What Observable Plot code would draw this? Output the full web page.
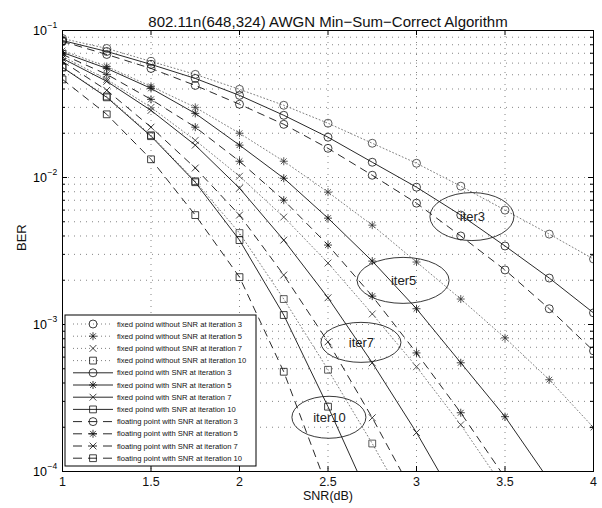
<!DOCTYPE html>
<html>
<head>
<meta charset="utf-8">
<script src="https://cdn.jsdelivr.net/npm/d3@7"></script>
<script src="https://cdn.jsdelivr.net/npm/@observablehq/plot@0.6"></script>
<style>
html,body{margin:0;padding:0;background:#fff;}
#chart svg{display:block;}
</style>
</head>
<body>
<div id="chart"></div>
<script>
// ---------- data ----------
const title = "802.11n(648,324) AWGN Min\u2212Sum\u2212Correct Algorithm";
const xLabel = "SNR(dB)";
const yLabel = "BER";
const snr = [1, 1.25, 1.5, 1.75, 2, 2.25, 2.5, 2.75, 3, 3.25, 3.5, 3.75, 4];
const xTicks = [1, 1.5, 2, 2.5, 3, 3.5, 4];
const yDecades = [1e-4, 1e-3, 1e-2, 1e-1];
const yExponents = ["\u22124", "\u22123", "\u22122", "\u22121"];

const noSnr3  = [0.0882, 0.0755, 0.0616, 0.0503, 0.0398, 0.0310, 0.0234, 0.0171, 0.0125, 0.00873, 0.00600, 0.00412, 0.00279];
const noSnr5  = [0.0731, 0.0569, 0.0417, 0.0300, 0.0200, 0.0129, 0.00795, 0.00474, 0.00266, 0.00149, 0.000811, 0.000421, 0.000199];
const noSnr7  = [0.0666, 0.0465, 0.0300, 0.0179, 0.0102, 0.00538, 0.00262, 0.00118, 0.000516, 0.000208, 0.0000754];
const noSnr10 = [0.0561, 0.0356, 0.0194, 0.00944, 0.00419, 0.00149, 0.000492, 0.000155, 0.0000452];

const withSnr3  = [0.0855, 0.0720, 0.0588, 0.0472, 0.0362, 0.0265, 0.0188, 0.0127, 0.00859, 0.00555, 0.00342, 0.00207, 0.00120];
const withSnr5  = [0.0709, 0.0552, 0.0404, 0.0273, 0.0166, 0.00989, 0.00529, 0.00270, 0.00128, 0.000549, 0.000236, 0.0000867];
const withSnr7  = [0.0645, 0.0451, 0.0286, 0.0166, 0.00846, 0.00375, 0.00152, 0.000549, 0.000184, 0.0000551];
const withSnr10 = [0.0561, 0.0351, 0.0191, 0.00929, 0.00375, 0.00116, 0.000276, 0.0000596];

const float3  = [0.0842, 0.0687, 0.0552, 0.0423, 0.0315, 0.0230, 0.0158, 0.01036, 0.00669, 0.00400, 0.00235, 0.00128, 0.000662];
const float5  = [0.0687, 0.0503, 0.0340, 0.0220, 0.0129, 0.00701, 0.00347, 0.00156, 0.000641, 0.000251, 0.0000909];
const float7  = [0.0616, 0.0392, 0.0220, 0.0116, 0.00555, 0.00217, 0.000762, 0.000232, 0.0000645];
const float10 = [0.0465, 0.0269, 0.0133, 0.00555, 0.00210, 0.000477, 0.0000754];

const seriesLabels = [
  "fixed poind without SNR at iteration 3",
  "fixed poind without SNR at iteration 5",
  "fixed poind without SNR at iteration 7",
  "fixed poind without SNR at iteration 10",
  "fixed poind with SNR at iteration 3",
  "fixed poind with SNR at iteration 5",
  "fixed poind with SNR at iteration 7",
  "fixed poind with SNR at iteration 10",
  "floating point with SNR at iteration 3",
  "floating point with SNR at iteration 5",
  "floating point with SNR at iteration 7",
  "floating point with SNR at iteration 10"
];
const seriesValues = [noSnr3, noSnr5, noSnr7, noSnr10, withSnr3, withSnr5, withSnr7, withSnr10, float3, float5, float7, float10];

const noteLabels = ["iter3", "iter5", "iter7", "iter10"];
const noteSnr = [3.316, 2.927, 2.689, 2.508];
const noteBer = [0.00538, 0.00198, 0.00075, 0.000232];

// ---------- styles ----------
const FONT = "'Liberation Sans', Arial, Helvetica, sans-serif";
const W = 602, H = 508;
const M = {top: 30, right: 9, bottom: 37, left: 62};
const FW = W - M.left - M.right, FH = H - M.top - M.bottom;

const symCircle = d3.symbolCircle;
const symStar = {draw(c, s) { const r = Math.sqrt(s / Math.PI), d = r * 0.72;
  c.moveTo(0, -r); c.lineTo(0, r); c.moveTo(-r, 0); c.lineTo(r, 0);
  c.moveTo(-d, -d); c.lineTo(d, d); c.moveTo(-d, d); c.lineTo(d, -d); }};
const symTimes = {draw(c, s) { const r = Math.sqrt(s / Math.PI) * 0.85;
  c.moveTo(-r, -r); c.lineTo(r, r); c.moveTo(-r, r); c.lineTo(r, -r); }};
const symSquare = {draw(c, s) { const r = Math.sqrt(s / Math.PI) * 0.85; c.rect(-r, -r, 2 * r, 2 * r); }};
const markerCycle = [symCircle, symStar, symTimes, symSquare];
const lineCycle = ["dotted", "dotted", "dotted", "dotted", "solid", "solid", "solid", "solid", "dashed", "dashed", "dashed", "dashed"];
const lineStyles = {
  dotted: {stroke: "#707070", strokeWidth: 0.9, strokeDasharray: "1,2.5"},
  solid:  {stroke: "#111", strokeWidth: 0.9},
  dashed: {stroke: "#111", strokeWidth: 0.9, strokeDasharray: "7,6"}
};
const legendDash = {dotted: "1,3", solid: null, dashed: "9,6"};
const markerR = 4;
const noteRadii = [[42, 24], [46, 23], [40, 20], [37, 21]];

// ---------- derived tables ----------
const seriesRows = seriesValues.map(vals => vals.map((v, j) => ({snr: snr[j], ber: v})));
const yMinor = yDecades.slice(0, -1).flatMap(d => d3.range(2, 10).map(k => d * k));
const notes = noteLabels.map((t, i) => ({label: t, snr: noteSnr[i], ber: noteBer[i]}));

// ---------- custom render marks ----------
function yTickLabels(index, scales, values, dim) {
  const g = d3.create("svg:g").attr("font-family", FONT).attr("fill", "#000");
  yDecades.forEach((d, i) => {
    const py = scales.y(d);
    g.append("text").attr("x", dim.marginLeft - 15).attr("y", py + 4.5)
      .attr("text-anchor", "end").attr("font-size", 12.5).text("10");
    g.append("text").attr("x", dim.marginLeft - 14.5).attr("y", py - 2)
      .attr("text-anchor", "start").attr("font-size", 8.5).text(yExponents[i]);
  });
  return g.node();
}

function ellipses(index, scales) {
  const g = d3.create("svg:g").attr("fill", "none").attr("stroke", "#222").attr("stroke-width", 0.9);
  notes.forEach((n, i) => {
    g.append("ellipse").attr("cx", scales.x(n.snr)).attr("cy", scales.y(n.ber))
      .attr("rx", noteRadii[i][0]).attr("ry", noteRadii[i][1]);
  });
  return g.node();
}

function legend(index, scales, values, dim) {
  const boxW = 191, boxH = 151, rowH = 12.2;
  const x0 = dim.marginLeft + 3;
  const y0 = dim.height - dim.marginBottom - 5 - boxH;
  const g = d3.create("svg:g").attr("font-family", FONT).attr("text-anchor", "start");
  g.append("rect").attr("x", x0).attr("y", y0).attr("width", boxW).attr("height", boxH)
    .attr("fill", "#fff").attr("stroke", "#000").attr("stroke-width", 1);
  seriesLabels.forEach((label, i) => {
    const cy = y0 + 9 + i * rowH;
    const st = lineStyles[lineCycle[i]];
    const ln = g.append("line").attr("x1", x0 + 8).attr("x2", x0 + 48).attr("y1", cy).attr("y2", cy)
      .attr("stroke", st.stroke).attr("stroke-width", st.strokeWidth);
    if (legendDash[lineCycle[i]]) ln.attr("stroke-dasharray", legendDash[lineCycle[i]]);
    g.append("path").attr("transform", `translate(${x0 + 28},${cy})`)
      .attr("d", d3.symbol().type(markerCycle[i % 4]).size(markerR * markerR * Math.PI)())
      .attr("fill", "none").attr("stroke", "#111").attr("stroke-width", 0.8);
    g.append("text").attr("x", x0 + 52).attr("y", cy).attr("dy", "0.35em")
      .attr("text-anchor", "start").attr("font-size", 7.6).attr("fill", "#111").text(label);
  });
  return g.node();
}

// ---------- marks ----------
const marks = [
  Plot.ruleX(xTicks.slice(1, -1), {x: d => d, stroke: "#666", strokeWidth: 0.8, strokeDasharray: "1,5"}),
  Plot.ruleY(yMinor.concat(yDecades.slice(1, -1)), {y: d => d, stroke: "#666", strokeWidth: 0.8, strokeDasharray: "1,5"})
];
seriesRows.forEach((rows, i) => {
  marks.push(Plot.line(rows, {x: "snr", y: "ber", clip: true, ...lineStyles[lineCycle[i]]}));
});
seriesRows.forEach((rows, i) => {
  marks.push(Plot.dot(rows, {x: "snr", y: "ber", clip: true, symbol: markerCycle[i % 4], r: markerR,
    fill: "none", stroke: lineCycle[i] === "dotted" ? "#333" : "#111", strokeWidth: 0.8}));
});
marks.push(
  Plot.frame({stroke: "#000", strokeWidth: 1}),
  Plot.ruleX(xTicks, {x: d => d, insetTop: FH - 5, stroke: "#000"}),
  Plot.ruleX(xTicks, {x: d => d, insetBottom: FH - 5, stroke: "#000"}),
  Plot.ruleY(yDecades, {y: d => d, insetRight: FW - 5, stroke: "#000"}),
  Plot.ruleY(yDecades, {y: d => d, insetLeft: FW - 5, stroke: "#000"}),
  Plot.ruleY(yMinor, {y: d => d, insetRight: FW - 3, stroke: "#000"}),
  Plot.ruleY(yMinor, {y: d => d, insetLeft: FW - 3, stroke: "#000"}),
  ellipses,
  Plot.text(notes, {x: "snr", y: "ber", text: "label", fontSize: 13, fill: "#222"}),
  legend,
  yTickLabels,
  Plot.text([title], {text: d => d, frameAnchor: "top", dy: -14, fontSize: 15, fill: "#111"}),
  Plot.text([xLabel], {text: d => d, frameAnchor: "bottom", dy: 28, fontSize: 12.5, fill: "#111"}),
  Plot.text([yLabel], {text: d => d, frameAnchor: "left", dx: -41, rotate: -90, fontSize: 13, fill: "#111"})
);

const chart = Plot.plot({
  width: W, height: H,
  marginTop: M.top, marginRight: M.right, marginBottom: M.bottom, marginLeft: M.left,
  style: {fontFamily: FONT, fontSize: "12.5px", background: "#fff", color: "#111"},
  x: {domain: [1, 4], ticks: xTicks, tickSize: 0, tickPadding: 6, label: null, tickFormat: d => String(d)},
  y: {type: "log", domain: [1e-4, 1e-1], axis: null},
  marks
});
document.getElementById("chart").appendChild(chart);
</script>
</body>
</html>
